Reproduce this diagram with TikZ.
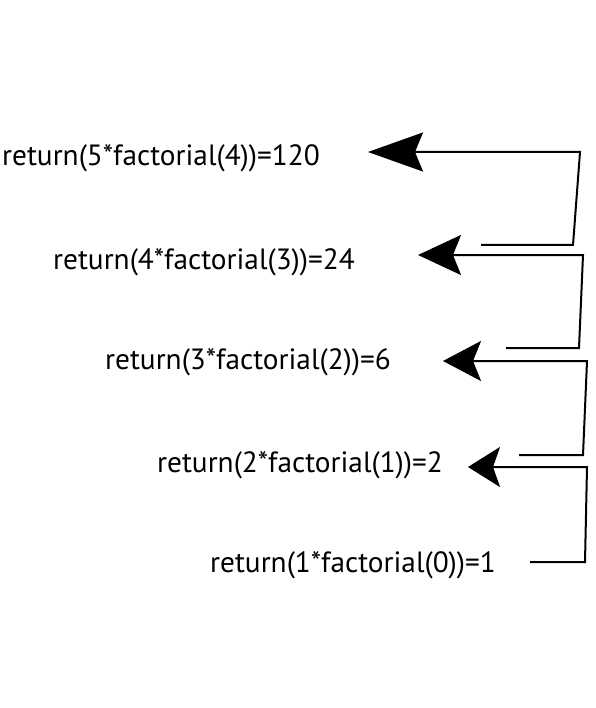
\documentclass[tikz,border=0pt]{standalone}
\usepackage{fontspec}
\setmainfont{PT Sans}
\usetikzlibrary{arrows.meta}
\begin{document}
\begin{tikzpicture}[x=1pt,y=-1pt,
  lbl/.style={anchor=west,inner sep=0pt,font=\fontsize{29.3}{32}\selectfont},
  ret/.style={line width=2pt,line join=miter}]
\useasboundingbox (0,0) rectangle (595,708);
\node[lbl] (t1) at (2,158) {return(5*factorial(4))=120};
\node[lbl] (t2) at (53,262) {return(4*factorial(3))=24};
\node[lbl] (t3) at (105,362) {return(3*factorial(2))=6};
\node[lbl] (t4) at (157,465) {return(2*factorial(1))=2};
\node[lbl] (t5) at (210,565) {return(1*factorial(0))=1};
\coordinate (s1) at (481,245); \coordinate (a1) at (368,152);
\coordinate (s2) at (506,348); \coordinate (a2) at (418,255);
\coordinate (s3) at (519,455); \coordinate (a3) at (443,361);
\coordinate (s4) at (530,562); \coordinate (a4) at (468,467);
\draw[ret,-{Stealth[length=55pt,width=39pt,inset=8pt]}] (s1) -- (573,245) -- (580,152) -- (a1);
\draw[ret,-{Stealth[length=43pt,width=40pt,inset=8pt]}] (s2) -- (579,348) -- (583,255) -- (a2);
\draw[ret,-{Stealth[length=38pt,width=40pt,inset=8pt]}] (s3) -- (583,455) -- (587,361) -- (a3);
\draw[ret,-{Stealth[length=32pt,width=40pt,inset=7pt]}] (s4) -- (585,562) -- (587,467) -- (a4);
\end{tikzpicture}
\end{document}
